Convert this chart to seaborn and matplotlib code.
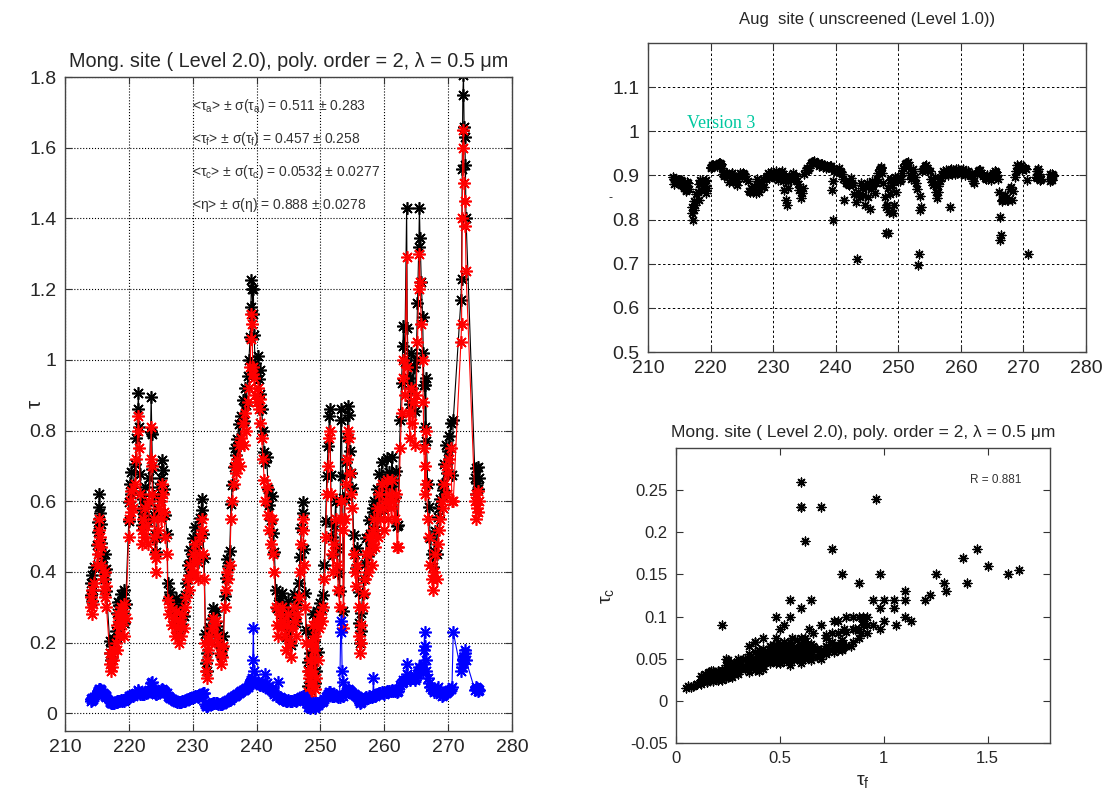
import numpy as np
import matplotlib
matplotlib.use("Agg")
import matplotlib.pyplot as plt
from matplotlib.ticker import FuncFormatter, FixedLocator
import seaborn as sns

# ---- Observations: day of year, fine-mode and coarse-mode optical depth ----
day = [
    214.0, 214.1, 214.2, 214.3, 214.4, 214.5,
    215.0, 215.1, 215.2, 215.3, 215.4, 215.5, 215.6, 215.7,
    216.0, 216.1, 216.2, 216.3, 216.4, 216.5,
    217.0, 217.1, 217.2, 217.3, 217.4, 217.5, 217.6,
    218.0, 218.1, 218.2, 218.3, 218.4, 218.5, 218.7,
    219.0, 219.1, 219.2, 219.3, 219.5,
    220.0, 220.1, 220.2, 220.3, 220.4, 220.6,
    221.0, 221.2, 221.4, 221.5, 221.6, 221.8,
    222.0, 222.1, 222.2, 222.3, 222.5, 222.7,
    223.0, 223.2, 223.4, 223.5, 223.6, 223.7, 223.9,
    224.0, 224.1, 224.2, 224.3, 224.5, 224.7,
    225.0, 225.1, 225.2, 225.3, 225.5, 225.7,
    226.0, 226.1, 226.3, 226.5, 226.7,
    227.0, 227.2, 227.4, 227.6, 227.8,
    228.0, 228.2, 228.4, 228.6, 228.8,
    229.0, 229.2, 229.4, 229.6, 229.8,
    230.0, 230.2, 230.4, 230.6, 230.8,
    231.0, 231.2, 231.4, 231.5, 231.6, 231.8,
    232.0, 232.1, 232.2, 232.3, 232.4, 232.6, 232.8,
    233.0, 233.2, 233.4, 233.6, 233.8,
    234.0, 234.2, 234.4, 234.6, 234.8,
    235.0, 235.2, 235.4, 235.6, 235.8,
    236.0, 236.2, 236.4, 236.6, 236.8,
    237.0, 237.2, 237.4, 237.6, 237.8,
    238.0, 238.2, 238.4, 238.6, 238.8,
    239.0, 239.1, 239.2, 239.3, 239.4, 239.5, 239.6, 239.8,
    240.0, 240.2, 240.4, 240.5, 240.6, 240.8,
    241.0, 241.2, 241.4, 241.6, 241.8,
    242.0, 242.2, 242.4, 242.6, 242.8,
    243.0, 243.2, 243.4, 243.6, 243.8,
    244.0, 244.2, 244.4, 244.6, 244.8,
    245.0, 245.2, 245.4, 245.6, 245.8,
    246.0, 246.2, 246.4, 246.6, 246.8,
    247.0, 247.2, 247.3, 247.4, 247.6, 247.8,
    248.0, 248.1, 248.2, 248.3, 248.4, 248.5, 248.6, 248.7, 248.8,
    249.0, 249.1, 249.2, 249.3, 249.4, 249.6, 249.8,
    250.0, 250.2, 250.4, 250.6, 250.8,
    251.0, 251.2, 251.4, 251.5, 251.6, 251.8,
    252.0, 252.2, 252.4, 252.6, 252.8,
    253.0, 253.2, 253.3, 253.4, 253.5, 253.6, 253.8,
    254.0, 254.2, 254.3, 254.4, 254.6, 254.8,
    255.0, 255.2, 255.4, 255.6, 255.8,
    256.0, 256.1, 256.2, 256.3, 256.4, 256.6, 256.8,
    257.0, 257.2, 257.4, 257.6, 257.8,
    258.0, 258.2, 258.3, 258.4, 258.6, 258.8,
    259.0, 259.2, 259.4, 259.6, 259.8,
    260.0, 260.2, 260.4, 260.6, 260.8,
    261.0, 261.2, 261.4, 261.6, 261.8,
    262.0, 262.1, 262.5, 262.7, 262.9,
    263.0, 263.2, 263.5, 263.6, 263.8,
    264.0, 264.2, 264.4, 264.6, 264.8,
    265.0, 265.2, 265.4, 265.5, 265.6, 265.8,
    266.0, 266.1, 266.2, 266.3, 266.4, 266.5, 266.6, 266.8,
    267.0, 267.2, 267.4, 267.6, 267.8,
    268.0, 268.2, 268.4, 268.6, 268.8,
    269.0, 269.2, 269.4, 269.6, 269.8,
    270.0, 270.2, 270.4, 270.6, 270.8,
    272.0, 272.1, 272.2, 272.3, 272.4, 272.5, 272.6, 272.7, 272.8,
    274.2, 274.3, 274.4, 274.5, 274.6, 274.7, 274.8,
]

tau_f = [
    0.30, 0.33, 0.28, 0.35, 0.31, 0.37,
    0.42, 0.48, 0.45, 0.52, 0.55, 0.50, 0.47, 0.42,
    0.38, 0.35, 0.40, 0.33, 0.36, 0.30,
    0.17, 0.14, 0.12, 0.16, 0.13, 0.15, 0.18,
    0.20, 0.25, 0.18, 0.28, 0.22, 0.27, 0.30,
    0.25, 0.29, 0.22, 0.31, 0.27,
    0.50, 0.55, 0.60, 0.57, 0.63, 0.58,
    0.65, 0.72, 0.80, 0.84, 0.75, 0.62,
    0.52, 0.48, 0.55, 0.50, 0.58, 0.53,
    0.48, 0.60, 0.72, 0.81, 0.70, 0.62, 0.55,
    0.50, 0.45, 0.40, 0.44, 0.52, 0.58,
    0.55, 0.60, 0.65, 0.62, 0.57, 0.50,
    0.45, 0.32, 0.28, 0.30, 0.25,
    0.27, 0.22, 0.29, 0.24, 0.20,
    0.26, 0.22, 0.28, 0.24, 0.30,
    0.33, 0.38, 0.35, 0.42, 0.39,
    0.45, 0.40, 0.48, 0.43, 0.38,
    0.45, 0.50, 0.55, 0.52, 0.45, 0.38,
    0.20, 0.12, 0.10, 0.15, 0.18, 0.22, 0.20,
    0.24, 0.27, 0.25, 0.26, 0.22,
    0.20, 0.17, 0.14, 0.16, 0.19,
    0.30, 0.35, 0.40, 0.38, 0.42,
    0.55, 0.60, 0.65, 0.70, 0.68,
    0.72, 0.76, 0.70, 0.78, 0.82,
    0.76, 0.85, 0.80, 0.88, 0.92,
    0.98, 1.06, 1.13, 1.10, 0.98, 0.96, 0.95, 0.90,
    0.88, 0.92, 0.86, 0.89, 0.82, 0.78,
    0.72, 0.66, 0.60, 0.64, 0.56,
    0.52, 0.48, 0.55, 0.45, 0.40,
    0.30, 0.25, 0.22, 0.28, 0.24,
    0.30, 0.26, 0.22, 0.18, 0.25,
    0.28, 0.20, 0.16, 0.24, 0.30,
    0.26, 0.22, 0.28, 0.33, 0.40,
    0.48, 0.55, 0.52, 0.42, 0.30, 0.20,
    0.12, 0.06, 0.10, 0.05, 0.15, 0.08, 0.20, 0.12, 0.25,
    0.18, 0.07, 0.22, 0.10, 0.26, 0.15, 0.24,
    0.28, 0.26, 0.30, 0.38, 0.50,
    0.62, 0.70, 0.78, 0.80, 0.62, 0.45,
    0.40, 0.48, 0.55, 0.42, 0.35,
    0.30, 0.60, 0.60, 0.55, 0.52, 0.24, 0.55,
    0.65, 0.72, 0.80, 0.78, 0.68, 0.62,
    0.58, 0.45, 0.40, 0.36, 0.42,
    0.30, 0.22, 0.17, 0.20, 0.25, 0.30, 0.34,
    0.38, 0.45, 0.40, 0.50, 0.46,
    0.42, 0.52, 0.48, 0.55, 0.47, 0.58,
    0.50, 0.62, 0.55, 0.65, 0.58,
    0.52, 0.60, 0.66, 0.55, 0.62,
    0.58, 0.66, 0.60, 0.55, 0.62,
    0.47, 0.47, 0.75, 0.85, 0.95,
    1.00, 0.90, 1.29, 0.98, 0.85,
    0.78, 0.92, 0.82, 0.88, 0.76,
    0.90, 1.05, 1.20, 1.30, 1.22, 1.10,
    1.00, 0.88, 0.75, 0.70, 0.62, 0.80, 0.65, 0.55,
    0.50, 0.42, 0.38, 0.35, 0.40,
    0.45, 0.38, 0.48, 0.52, 0.55,
    0.60, 0.58, 0.65, 0.70, 0.62,
    0.68, 0.72, 0.75, 0.60, 0.60,
    1.05, 1.10, 1.40, 1.60, 1.65, 1.50, 1.45, 1.38, 1.25,
    0.60, 0.55, 0.62, 0.58, 0.63, 0.57, 0.60,
]

tau_c = [
    0.035, 0.040, 0.038, 0.042, 0.040, 0.045,
    0.055, 0.060, 0.062, 0.065, 0.070, 0.068, 0.066, 0.062,
    0.058, 0.055, 0.052, 0.050, 0.048, 0.045,
    0.035, 0.032, 0.030, 0.030, 0.028, 0.030, 0.030,
    0.032, 0.034, 0.033, 0.035, 0.034, 0.036, 0.038,
    0.035, 0.037, 0.036, 0.038, 0.040,
    0.045, 0.048, 0.050, 0.050, 0.052, 0.050,
    0.055, 0.058, 0.062, 0.065, 0.060, 0.056,
    0.055, 0.054, 0.056, 0.055, 0.060, 0.058,
    0.062, 0.066, 0.075, 0.085, 0.090, 0.070, 0.065,
    0.060, 0.058, 0.055, 0.056, 0.058, 0.060,
    0.062, 0.065, 0.068, 0.067, 0.064, 0.060,
    0.057, 0.050, 0.045, 0.044, 0.040,
    0.038, 0.036, 0.035, 0.033, 0.032,
    0.033, 0.032, 0.034, 0.035, 0.036,
    0.038, 0.040, 0.041, 0.043, 0.044,
    0.046, 0.046, 0.048, 0.048, 0.047,
    0.050, 0.052, 0.055, 0.056, 0.057, 0.058,
    0.025, 0.022, 0.020, 0.022, 0.023, 0.025, 0.025,
    0.027, 0.028, 0.028, 0.029, 0.028,
    0.027, 0.026, 0.025, 0.026, 0.028,
    0.032, 0.034, 0.036, 0.037, 0.038,
    0.042, 0.045, 0.048, 0.050, 0.052,
    0.055, 0.058, 0.060, 0.062, 0.065,
    0.066, 0.070, 0.072, 0.075, 0.080,
    0.085, 0.090, 0.095, 0.100, 0.150, 0.240, 0.120, 0.090,
    0.085, 0.090, 0.085, 0.080, 0.082, 0.080,
    0.078, 0.080, 0.110, 0.085, 0.075,
    0.070, 0.066, 0.065, 0.060, 0.055,
    0.050, 0.048, 0.090, 0.045, 0.042,
    0.040, 0.038, 0.037, 0.036, 0.036,
    0.037, 0.035, 0.034, 0.036, 0.038,
    0.037, 0.036, 0.037, 0.040, 0.042,
    0.045, 0.048, 0.047, 0.044, 0.040, 0.035,
    0.025, 0.018, 0.020, 0.015, 0.022, 0.018, 0.025, 0.020, 0.030,
    0.025, 0.016, 0.028, 0.020, 0.030, 0.024, 0.030,
    0.032, 0.033, 0.036, 0.040, 0.045,
    0.050, 0.055, 0.060, 0.060, 0.055, 0.050,
    0.048, 0.050, 0.052, 0.048, 0.046,
    0.045, 0.260, 0.230, 0.120, 0.090, 0.050, 0.055,
    0.060, 0.062, 0.068, 0.065, 0.062, 0.060,
    0.058, 0.055, 0.052, 0.050, 0.048,
    0.042, 0.035, 0.030, 0.032, 0.035, 0.038, 0.040,
    0.042, 0.045, 0.044, 0.048, 0.047,
    0.046, 0.050, 0.100, 0.052, 0.050, 0.055,
    0.054, 0.058, 0.057, 0.060, 0.058,
    0.056, 0.060, 0.062, 0.060, 0.062,
    0.062, 0.065, 0.064, 0.062, 0.066,
    0.060, 0.062, 0.080, 0.085, 0.090,
    0.095, 0.095, 0.140, 0.110, 0.100,
    0.095, 0.100, 0.100, 0.100, 0.095,
    0.100, 0.110, 0.120, 0.130, 0.125, 0.120,
    0.120, 0.140, 0.180, 0.230, 0.190, 0.150, 0.120, 0.100,
    0.085, 0.075, 0.070, 0.065, 0.060,
    0.065, 0.070, 0.075, 0.060, 0.055,
    0.050, 0.052, 0.055, 0.058, 0.060,
    0.062, 0.065, 0.070, 0.075, 0.230,
    0.120, 0.130, 0.140, 0.150, 0.155, 0.160, 0.180, 0.170, 0.150,
    0.065, 0.070, 0.075, 0.072, 0.068, 0.064, 0.066,
]

# Summary statistics printed on the time-series panel
stats_lines = [
    r"<$\tau_\mathrm{a}$> $\pm$ $\sigma$($\tau_\mathrm{a}$) = 0.511 $\pm$ 0.283",
    r"<$\tau_\mathrm{f}$> $\pm$ $\sigma$($\tau_\mathrm{f}$) = 0.457 $\pm$ 0.258",
    r"<$\tau_\mathrm{c}$> $\pm$ $\sigma$($\tau_\mathrm{c}$) = 0.0532 $\pm$ 0.0277",
    r"<$\eta$> $\pm$ $\sigma$($\eta$) = 0.888 $\pm$ 0.0278",
]
corr_label = "R = 0.881"
title_main = "Mong. site ( Level 2.0), poly. order = 2, \u03bb = 0.5 \u03bcm"
title_eta = "Aug  site ( unscreened (Level 1.0))"

day_ticks = [210, 220, 230, 240, 250, 260, 270, 280]
tau_ticks = [0, 0.2, 0.4, 0.6, 0.8, 1.0, 1.2, 1.4, 1.6, 1.8]
eta_ticks = [0.5, 0.6, 0.7, 0.8, 0.9, 1.0, 1.1]
tf_ticks = [0, 0.5, 1.0, 1.5]
tc_ticks = [-0.05, 0, 0.05, 0.1, 0.15, 0.2, 0.25]

# ---- Derived quantities ----
day = np.array(day)
tau_f = np.array(tau_f)
tau_c = np.array(tau_c)
tau_a = tau_f + tau_c
eta = tau_f / tau_a

# ---- Style ----
sns.set_style("ticks")
plt.rcParams["font.family"] = ["Liberation Sans", "DejaVu Sans"]
plt.rcParams["mathtext.fontset"] = "custom"
plt.rcParams["mathtext.rm"] = "Liberation Sans"
plt.rcParams["mathtext.it"] = "Liberation Sans"
plt.rcParams["mathtext.bf"] = "Liberation Sans:bold"
plt.rcParams["axes.edgecolor"] = "#444444"
plt.rcParams["axes.linewidth"] = 1.0

ASTER = (8, 2, 0)
fmt_g = FuncFormatter(lambda v, p: f"{v:g}")


def matlab_axes(ax, fs):
    ax.tick_params(direction="in", top=True, right=True, length=5,
                   width=0.8, color="#333333", labelsize=fs, pad=6)
    ax.xaxis.set_major_formatter(fmt_g)
    ax.yaxis.set_major_formatter(fmt_g)
    for s in ax.spines.values():
        s.set_visible(True)
        s.set_color("#444444")


fig = plt.figure(figsize=(11.03, 7.95), dpi=100)
fig.patch.set_facecolor("white")

# ---- Left: optical depth time series ----
ax1 = fig.add_axes([0.0589, 0.0805, 0.4053, 0.8226])
line_kw = dict(estimator=None, sort=False, linewidth=0.8,
               marker=ASTER, markersize=9, markeredgewidth=1.2)
sns.lineplot(x=day, y=tau_a, ax=ax1, color="black",
             markeredgecolor="black", **line_kw)
sns.lineplot(x=day, y=tau_f, ax=ax1, color="#ff0000",
             markeredgecolor="#ff0000", **line_kw)
sns.lineplot(x=day, y=tau_c, ax=ax1, color="#0000ff",
             markeredgecolor="#0000ff", **line_kw)
ax1.set_xlim(210, 280)
ax1.set_ylim(-0.05, 1.8)
ax1.xaxis.set_major_locator(FixedLocator(day_ticks))
ax1.yaxis.set_major_locator(FixedLocator(tau_ticks))
ax1.grid(True, linestyle=":", color="black", linewidth=0.8)
matlab_axes(ax1, 14)
ax1.set_title(title_main, fontsize=14.3, pad=7)
ax1.set_ylabel("\u03c4", fontsize=15)
ax1.yaxis.set_label_coords(-0.045, 0.5)
ax1.set_xlabel("")
for i, s in enumerate(stats_lines):
    ax1.text(0.285, 0.955 - i * 0.05, s, transform=ax1.transAxes,
             fontsize=10, color="#333333", va="center", ha="left")

# ---- Top right: fine-mode fraction ----
ax2 = fig.add_axes([0.5875, 0.5572, 0.3971, 0.3887])
sns.scatterplot(x=day, y=eta, ax=ax2, color="black", marker=ASTER,
                s=40, linewidth=1.0, edgecolor="black")
ax2.set_xlim(210, 280)
ax2.set_ylim(0.5, 1.2)
ax2.xaxis.set_major_locator(FixedLocator(day_ticks))
ax2.yaxis.set_major_locator(FixedLocator(eta_ticks))
ax2.grid(True, linestyle=(0, (2.5, 2.5)), color="black", linewidth=0.7)
matlab_axes(ax2, 14)
ax2.set_title(title_eta, fontsize=12, pad=14)
ax2.set_ylabel("-", fontsize=9, rotation=0)
ax2.yaxis.set_label_coords(-0.085, 0.48)
ax2.set_xlabel("")
ax2.text(0.089, 0.741, "Version 3", transform=ax2.transAxes,
         fontsize=13, color="#00c8a0", family="Liberation Serif",
         va="center", ha="left")

# ---- Bottom right: coarse vs fine optical depth ----
ax3 = fig.add_axes([0.6129, 0.0654, 0.3391, 0.3711])
sns.scatterplot(x=tau_f, y=tau_c, ax=ax3, color="black", marker=ASTER,
                s=40, linewidth=1.0, edgecolor="black")
ax3.set_xlim(0, 1.8)
ax3.set_ylim(-0.05, 0.3)
ax3.xaxis.set_major_locator(FixedLocator(tf_ticks))
ax3.yaxis.set_major_locator(FixedLocator(tc_ticks))
matlab_axes(ax3, 12)
ax3.set_title(title_main, fontsize=12.5, pad=8)
ax3.set_xlabel(r"$\tau_\mathrm{f}$", fontsize=14, labelpad=5)
ax3.set_ylabel(r"$\tau_\mathrm{c}$", fontsize=14)
ax3.yaxis.set_label_coords(-0.16, 0.5)
ax3.text(0.785, 0.89, corr_label, transform=ax3.transAxes,
         fontsize=8.5, color="#333333", va="center", ha="left")

fig.savefig("out.png", dpi=100, facecolor="white")
